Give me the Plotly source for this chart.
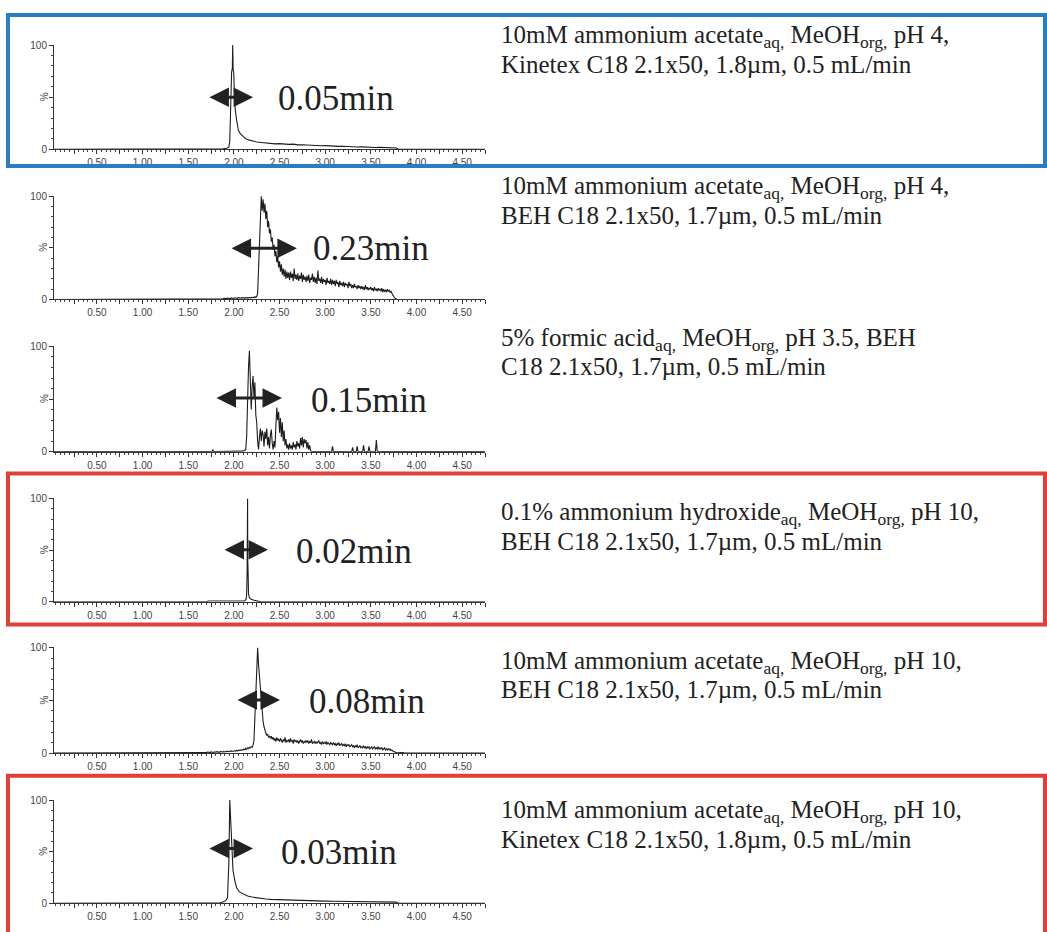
import plotly.graph_objects as go

# ---------------- data ----------------
X_START, X_END = 0.03, 4.75
SAMPLE_STEP = 0.01

# Panel 1: Kinetex pH 4 (explicit points)
p1_t = [1.80, 1.88, 1.92, 1.945, 1.955, 1.965, 1.975, 1.983, 1.987, 1.992, 1.998, 2.005, 2.015, 2.03, 2.05,
        2.07, 2.10, 2.13, 2.16, 2.20, 2.25, 2.30, 2.35, 2.40, 2.45, 2.50, 2.55, 2.60, 2.65, 2.70, 2.75,
        2.80, 2.85, 2.90, 2.95, 3.00, 3.05, 3.10, 3.15, 3.20, 3.25, 3.30, 3.35, 3.40, 3.45, 3.50, 3.55,
        3.60, 3.65, 3.70, 3.75, 3.78, 3.80]
p1_v = [0, 0.5, 1.0, 2.0, 8, 45, 74, 78, 100, 76, 74, 55, 38, 28, 18,
        15, 12, 10, 9, 8, 7, 6.5, 6, 5.6, 5.2, 5.4, 4.8, 4.7, 4.9, 4.2, 4.4,
        4.0, 3.6, 3.9, 3.4, 3.5, 3.1, 3.3, 2.8, 2.9, 2.5, 2.6, 2.2, 2.3, 1.9, 2.0, 1.7,
        1.8, 1.5, 1.6, 1.3, 1.2, 0]

# Panel 2: BEH pH 4, sampled every 0.01 min from 1.80
p2_start = 1.80
p2_v = [0.3, 0.5, 0.4, 0.8, 0.5, 0.9, 0.6, 1.0, 0.7, 1.1,
        0.8, 1.2, 0.9, 1.4, 1.0, 1.2, 0.8, 1.5, 1.1, 1.3,
        1.0, 1.6, 1.2, 1.4, 1.1, 1.8, 1.3, 1.5, 1.2, 1.9,
        1.4, 1.7, 1.2, 2.0, 1.5, 1.8, 1.3, 2.1, 1.6, 1.9,
        1.5, 2.2, 1.8, 2.6, 2.0, 3.0, 6, 30, 70, 92,
        100, 86, 97, 84, 93, 78, 86, 70, 76, 64,
        68, 56, 60, 48, 53, 42, 47, 36, 42, 31,
        37, 27, 34, 24, 30, 22, 29, 20, 27, 21,
        26, 19, 27, 21, 25, 18, 30, 20, 24, 19,
        25, 18, 23, 20, 26, 17, 24, 19, 22, 17,
        23, 18, 24, 16, 21, 19, 25, 17, 22, 16,
        21, 15, 28, 18, 20, 16, 22, 15, 20, 17,
        19, 14, 21, 16, 18, 15, 20, 14, 19, 15,
        18, 13, 19, 15, 17, 12, 18, 14, 16, 13,
        17, 12, 16, 14, 15, 11, 17, 13, 15, 11,
        14, 11, 15, 12, 13, 10, 14, 11, 13, 10,
        13, 10, 12, 9, 14, 10, 12, 9, 11, 10,
        12, 9, 11, 8, 12, 9, 10, 8, 11, 9,
        10, 8, 11, 7, 10, 8, 9, 7, 10, 8,
        9, 7, 8, 6, 5, 3, 1.5, 0.8, 0.3, 0]

# Panel 3: formic acid, sampled every 0.01 min from 2.10, plus isolated spikes
p3_start = 2.10
p3_v = [0.5, 1, 1, 2, 15, 55, 80, 96, 70, 40,
        62, 72, 50, 66, 35, 28, 10, 2, 14, 22,
        10, 20, 16, 5, 19, 12, 22, 6, 14, 3,
        16, 21, 8, 2, 10, 4, 25, 42, 30, 38,
        18, 32, 14, 28, 10, 20, 6, 12, 3, 7,
        2, 8, 3, 6, 2, 9, 4, 7, 2, 10,
        5, 8, 3, 13, 6, 14, 4, 12, 8, 11,
        3, 9, 2, 6, 1, 0]
p3_spike_t = [1.76, 1.77, 1.78, 3.07, 3.08, 3.09, 3.29, 3.30, 3.31, 3.34, 3.35, 3.36,
              3.41, 3.42, 3.43, 3.47, 3.48, 3.49, 3.55, 3.56, 3.57]
p3_spike_v = [0, 2, 0, 0, 5, 0, 0, 4, 0, 0, 5, 0,
              0, 6, 0, 0, 5, 0, 0, 11, 0]

# Panel 4: ammonium hydroxide pH 10 (explicit points)
p4_t = [1.70, 1.72, 1.90, 2.12, 2.135, 2.14, 2.145, 2.15, 2.152, 2.156, 2.16, 2.17, 2.19, 2.22, 2.26, 2.30]
p4_v = [0, 0.8, 0.9, 1.0, 3, 8, 30, 100, 40, 28, 8, 4, 2.5, 1.5, 0.8, 0]

# Panel 5: BEH pH 10, sampled every 0.01 min from 1.60
p5_start = 1.60
p5_v = [0.3, 0.6, 0.2, 0.8, 0.4, 0.7, 0.3, 0.9, 0.5, 0.6,
        0.4, 1.0, 0.6, 0.8, 0.5, 1.1, 0.7, 0.9, 0.6, 1.2,
        0.8, 1.3, 0.9, 1.1, 0.7, 1.5, 1.0, 1.2, 0.9, 1.6,
        1.1, 1.4, 1.0, 1.8, 1.3, 1.6, 1.2, 2.0, 1.5, 1.8,
        1.6, 2.2, 1.8, 2.5, 2.0, 2.8, 2.3, 3.0, 2.6, 3.3,
        2.9, 3.8, 3.2, 4.5, 3.6, 5.0, 4.2, 5.5, 4.8, 6.0,
        5.5, 7.5, 12, 35, 72, 92, 100, 84, 73, 58,
        46, 36, 30, 25, 21, 19, 17, 18, 15, 16,
        14, 16, 13, 15, 12, 14, 11, 15, 12, 13,
        11, 14, 12, 10, 13, 11, 15, 10, 12, 11,
        13, 10, 14, 11, 12, 9, 13, 11, 12, 10,
        12, 9, 11, 13, 10, 12, 9, 11, 10, 12,
        10, 12, 9, 11, 10, 13, 9, 10, 11, 9,
        11, 9, 10, 12, 9, 10, 8, 11, 9, 10,
        9, 11, 8, 10, 9, 8, 10, 9, 8, 10,
        8, 9, 7, 9, 8, 10, 7, 8, 9, 7,
        8, 7, 9, 6, 8, 7, 8, 6, 7, 8,
        6, 7, 5, 7, 6, 8, 5, 6, 7, 5,
        6, 5, 7, 5, 6, 4, 6, 5, 6, 4,
        5, 6, 4, 5, 6, 4, 5, 4, 6, 4,
        5, 4, 5, 3, 4, 5, 3, 4, 3, 4,
        3, 4, 2.5, 3, 2, 1.5, 1, 0.5, 0.3, 0,
        0.2, 0.5, 0.1, 0.4, 0, 0.6, 0.2, 0.3, 0, 0.4, 0]

# Panel 6: Kinetex pH 10 (explicit points)
p6_t = [1.80, 1.85, 1.88, 1.91, 1.93, 1.945, 1.955, 1.96, 1.968, 1.976, 1.99, 2.01, 2.03, 2.06, 2.10,
        2.15, 2.20, 2.25, 2.30, 2.35, 2.40, 2.50, 2.60, 2.70, 2.80, 2.90, 3.00, 3.10, 3.20, 3.30,
        3.40, 3.50, 3.60, 3.70, 3.78, 3.80]
p6_v = [0, 0.5, 1.2, 2.5, 5, 40, 100, 90, 64, 50, 32, 22, 15, 11, 9,
        7, 6, 5.2, 4.6, 4.2, 3.8, 3.4, 3.0, 2.8, 2.5, 2.3, 2.1, 2.0, 1.8, 1.7,
        1.6, 1.5, 1.4, 1.3, 1.1, 0]

# peak widths / labels
width_labels = ["0.05min", "0.23min", "0.15min", "0.02min", "0.08min", "0.03min"]
arrow_t0 = [1.716, 1.958, 1.793, 1.881, 2.023, 1.716]
arrow_t1 = [2.21, 2.69, 2.527, 2.374, 2.505, 2.21]
arrow_level = [50, 49.5, 51, 50.5, 50.5, 53]
label_t = [2.47, 2.856, 2.834, 2.67, 2.81, 2.505]

conditions_line1 = [
    "10mM ammonium acetate<sub>aq,</sub> MeOH<sub>org,</sub> pH 4,",
    "10mM ammonium acetate<sub>aq,</sub> MeOH<sub>org,</sub> pH 4,",
    "5% formic acid<sub>aq,</sub> MeOH<sub>org,</sub> pH 3.5, BEH",
    "0.1% ammonium hydroxide<sub>aq,</sub> MeOH<sub>org,</sub> pH 10,",
    "10mM ammonium acetate<sub>aq,</sub> MeOH<sub>org,</sub> pH 10,",
    "10mM ammonium acetate<sub>aq,</sub> MeOH<sub>org,</sub> pH 10,",
]
conditions_line2 = [
    "Kinetex C18 2.1x50, 1.8µm, 0.5 mL/min",
    "BEH C18 2.1x50, 1.7µm, 0.5 mL/min",
    "C18 2.1x50, 1.7µm, 0.5 mL/min",
    "BEH C18 2.1x50, 1.7µm, 0.5 mL/min",
    "BEH C18 2.1x50, 1.7µm, 0.5 mL/min",
    "Kinetex C18 2.1x50, 1.8µm, 0.5 mL/min",
]

x_tickvals = [0.25 * k for k in range(1, 20)]
x_ticktext = [("%.2f" % v) if abs((v * 2) - round(v * 2)) < 1e-9 and v <= 4.5 else "" for v in x_tickvals]


def sampled(start, vals):
    return [round(start + SAMPLE_STEP * i, 3) for i in range(len(vals))]


def with_ends(t, v):
    return [X_START] + list(t) + [X_END], [0] + list(v) + [0]


p3_all = sorted(zip(sampled(p3_start, p3_v) + p3_spike_t, p3_v + p3_spike_v))
series = [
    (p1_t, p1_v),
    (sampled(p2_start, p2_v), p2_v),
    ([a for a, b in p3_all], [b for a, b in p3_all]),
    (p4_t, p4_v),
    (sampled(p5_start, p5_v), p5_v),
    (p6_t, p6_v),
]

# ---------------- layout ----------------
W, H = 1047, 932


def fx(p):
    return p / W


def fy(p):
    return 1 - p / H


panel_top = [40, 193, 345, 499, 650, 804]
panel_bot = [146, 298, 452, 604, 757, 909]
line1_mid = [32, 185, 338, 515, 665, 816]
LINE_GAP = 28
AX_L, AX_R = 54, 485
SERIF = "Liberation Serif"
SANS = "Liberation Sans, Arial"

fig = go.Figure()
layout = dict(
    width=W, height=H, margin=dict(l=0, r=0, t=0, b=0),
    paper_bgcolor="white", plot_bgcolor="white", showlegend=False,
    font=dict(family=SANS, size=10, color="#444"),
)
annotations = []
shapes = []

for i, (t, v) in enumerate(series):
    n = i + 1
    xa = "x" if n == 1 else f"x{n}"
    ya = "y" if n == 1 else f"y{n}"
    tt, vv = with_ends(t, v)
    fig.add_trace(go.Scatter(x=tt, y=vv, mode="lines", xaxis=xa, yaxis=ya,
                             line=dict(color="#1c1c1c", width=1.1), hoverinfo="skip"))
    layout[f"xaxis{'' if n == 1 else n}"] = dict(
        domain=[fx(AX_L), fx(AX_R)], range=[X_START, X_END], anchor=ya,
        showline=True, linecolor="#333", linewidth=1, showgrid=False, zeroline=False,
        ticks="outside", ticklen=4, tickcolor="#333", tickwidth=1,
        tickvals=x_tickvals, ticktext=x_ticktext, tickangle=0,
        tickfont=dict(family=SANS, size=10, color="#444"),
        minor=dict(dtick=0.05, tick0=0, ticks="outside", ticklen=2, tickcolor="#444"),
    )
    layout[f"yaxis{'' if n == 1 else n}"] = dict(
        domain=[fy(panel_bot[i]), fy(panel_top[i])], range=[0, 100.5], anchor=xa,
        showline=True, linecolor="#333", linewidth=1, showgrid=False, zeroline=False,
        ticks="outside", ticklen=4, tickcolor="#333",
        tickvals=[0, 50, 100], ticktext=["0", "", "100"],
        tickfont=dict(family=SANS, size=10, color="#444"),
        minor=dict(dtick=10, ticks="outside", ticklen=2, tickcolor="#444"),
    )
    # rotated % label
    annotations.append(dict(xref="paper", yref=ya, x=fx(44), y=50, text="%", textangle=-90,
                            showarrow=False, xanchor="center", yanchor="middle",
                            font=dict(family=SANS, size=10, color="#444")))
    # double-headed arrow
    annotations.append(dict(xref=xa, yref=ya, axref=xa, ayref=ya,
                            x=arrow_t1[i], y=arrow_level[i], ax=arrow_t0[i], ay=arrow_level[i],
                            text="", showarrow=True, arrowhead=2, startarrowhead=2,
                            arrowside="end+start", arrowsize=1.3, startarrowsize=1.3,
                            arrowwidth=3, arrowcolor="#222", standoff=0, startstandoff=0))
    # peak width label
    annotations.append(dict(xref=xa, yref=ya, x=label_t[i], y=49, text=width_labels[i],
                            showarrow=False, xanchor="left", yanchor="middle", borderpad=0,
                            font=dict(family=SERIF, size=35, color="#222")))
    # condition text (two lines)
    annotations.append(dict(xref="paper", yref="paper", x=fx(500), y=fy(line1_mid[i]),
                            text=conditions_line1[i], showarrow=False, xanchor="left",
                            yanchor="middle", align="left", borderpad=0,
                            font=dict(family=SERIF, size=25, color="#222")))
    annotations.append(dict(xref="paper", yref="paper", x=fx(500), y=fy(line1_mid[i] + LINE_GAP),
                            text=conditions_line2[i], showarrow=False, xanchor="left",
                            yanchor="middle", align="left", borderpad=0,
                            font=dict(family=SERIF, size=25, color="#222")))

# frames around highlighted panels
box_specs = [("#2a7dc2", 10, 163), ("#e0403a", 474, 627), ("#e0403a", 780, 945)]
for color, top, bot in box_specs:
    shapes.append(dict(type="rect", xref="paper", yref="paper",
                       x0=fx(8), x1=fx(1045), y0=fy(bot), y1=fy(top),
                       line=dict(color=color, width=4), fillcolor="rgba(0,0,0,0)"))

layout["annotations"] = annotations
layout["shapes"] = shapes
fig.update_layout(**layout)
fig.write_html("out.html", config={"displayModeBar": False},
               post_script="document.body.style.margin='0';")
